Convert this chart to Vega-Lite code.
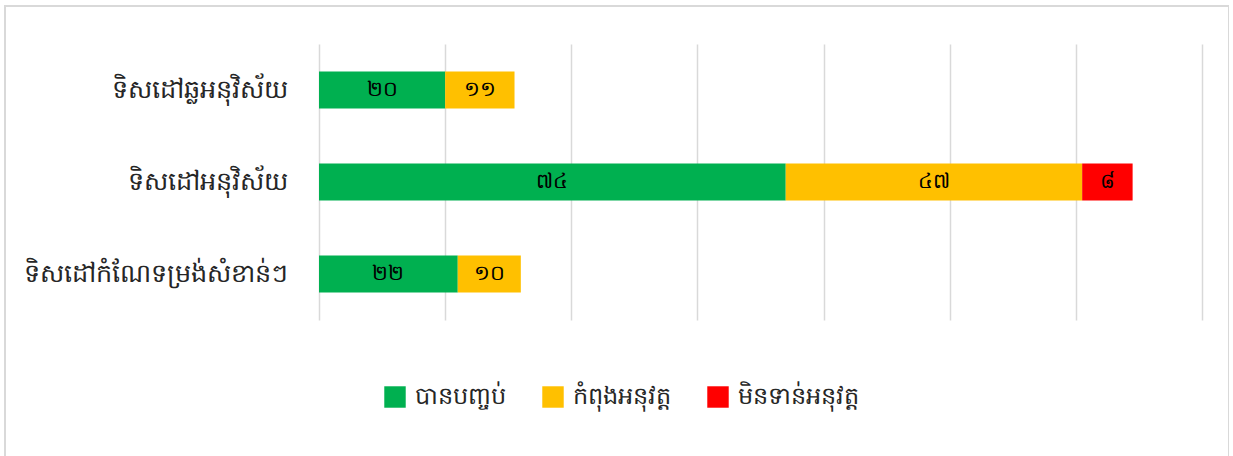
{
  "$schema": "https://vega.github.io/schema/vega-lite/v6.json",
  "autosize": {"type": "none"},
  "padding": {"left": 5, "top": 6, "right": 0, "bottom": 0},
  "width": 1224,
  "height": 452,
  "background": "white",
  "config": {
    "view": {"stroke": "#d9d9d9", "strokeWidth": 2},
    "font": "Noto Sans"
  },
  "data": {
    "values": [
      {"goal": "ទិសដៅឆ្លអនុវិស័យ", "status": "បានបញ្ចប់", "k": 1, "value": 20, "label": "២០"},
      {"goal": "ទិសដៅឆ្លអនុវិស័យ", "status": "កំពុងអនុវត្ត", "k": 2, "value": 11, "label": "១១"},
      {"goal": "ទិសដៅអនុវិស័យ", "status": "បានបញ្ចប់", "k": 1, "value": 74, "label": "៧៤"},
      {"goal": "ទិសដៅអនុវិស័យ", "status": "កំពុងអនុវត្ត", "k": 2, "value": 47, "label": "៤៧"},
      {"goal": "ទិសដៅអនុវិស័យ", "status": "មិនទាន់អនុវត្ត", "k": 3, "value": 8, "label": "៨"},
      {"goal": "ទិសដៅកំណែទម្រង់សំខាន់ៗ", "status": "បានបញ្ចប់", "k": 1, "value": 22, "label": "២២"},
      {"goal": "ទិសដៅកំណែទម្រង់សំខាន់ៗ", "status": "កំពុងអនុវត្ត", "k": 2, "value": 10, "label": "១០"}
    ]
  },
  "encoding": {
    "y": {
      "field": "goal",
      "type": "nominal",
      "sort": null,
      "scale": {"range": [38, 314], "paddingInner": 0.6, "paddingOuter": 0.3},
      "axis": {
        "title": null,
        "orient": "left",
        "offset": -300,
        "domain": false,
        "ticks": false,
        "tickSize": 0,
        "labelPadding": 18,
        "labelFontSize": 25.5,
        "labelColor": "#262626",
        "labelLimit": 400
      }
    }
  },
  "layer": [
    {
      "mark": {"type": "bar"},
      "encoding": {
        "x": {
          "field": "value",
          "type": "quantitative",
          "stack": "zero",
          "scale": {"domain": [0, 140], "range": [314, 1197], "nice": false},
          "axis": {
            "title": null,
            "orient": "top",
            "offset": -38,
            "values": [0, 20, 40, 60, 80, 100, 120, 140],
            "labels": false,
            "domain": false,
            "grid": false,
            "ticks": true,
            "tickSize": -276,
            "tickColor": "#d9d9d9",
            "tickWidth": 1.5
          }
        },
        "color": {
          "field": "status",
          "type": "nominal",
          "scale": {
            "domain": ["បានបញ្ចប់", "កំពុងអនុវត្ត", "មិនទាន់អនុវត្ត"],
            "range": ["#00b050", "#ffc000", "#ff0000"]
          },
          "legend": {
            "title": null,
            "orient": "none",
            "legendX": 378,
            "legendY": 379,
            "direction": "horizontal",
            "symbolType": "square",
            "symbolSize": 460,
            "symbolStrokeWidth": 0,
            "labelFontSize": 24,
            "labelColor": "#262626",
            "labelOffset": 8,
            "columnPadding": 35,
            "padding": 0
          }
        },
        "order": {"field": "k", "type": "quantitative"}
      }
    },
    {
      "mark": {"type": "text", "fontSize": 21, "color": "#000000", "baseline": "middle", "align": "center"},
      "encoding": {
        "x": {"field": "value", "type": "quantitative", "stack": "zero", "bandPosition": 0.5},
        "text": {"field": "label"},
        "order": {"field": "k", "type": "quantitative"},
        "detail": {"field": "status"}
      }
    }
  ]
}
